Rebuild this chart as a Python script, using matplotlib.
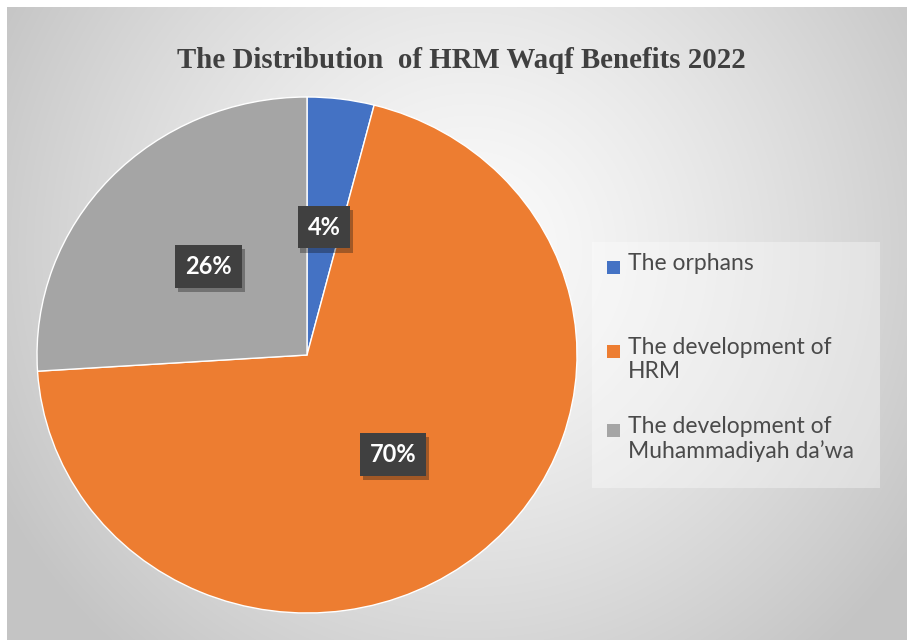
import numpy as np
import matplotlib
matplotlib.use('Agg')
import matplotlib.pyplot as plt
import matplotlib.patheffects as pe
from matplotlib.patches import Rectangle

title = 'The Distribution  of HRM Waqf Benefits 2022'
labels = ['The orphans', 'The development of\nHRM', 'The development of\nMuhammadiyah da\u2019wa']
values = [4, 70, 26]
colors = ['#4472C4', '#ED7D31', '#A5A5A5']

W, H = 907, 640
fig = plt.figure(figsize=(W / 100, H / 100), dpi=100)
fig.patch.set_facecolor('white')

# background panel with radial gradient
bg = fig.add_axes([7 / W, 0, 900 / W, 633 / H])
yy, xx = np.mgrid[0:633, 0:900]
d = np.hypot((xx - 463) / 1.0, (yy - 243) / 1.0)
shade = 0.985 - 0.20 * (d / 505) ** 1.3
shade = np.clip(shade, 0.77, 1)
bg.imshow(np.dstack([shade] * 3), aspect='auto', extent=(0, 900, 633, 0))
bg.set_xlim(0, 900)
bg.set_ylim(633, 0)
bg.axis('off')

# pie (stretched slightly wider than tall like the source)
cx, cy, rx, ry = 307, 355, 270, 258
ax = fig.add_axes([(cx - rx) / W, (H - cy - ry) / H, 2 * rx / W, 2 * ry / H])
wedges, texts, autotexts = ax.pie(values, colors=colors, startangle=90, counterclock=False,
                                  autopct='%d%%', pctdistance=0.5,
                                  wedgeprops=dict(edgecolor='white', linewidth=1))
ax.set_aspect('auto')
ax.set_xlim(-1, 1)
ax.set_ylim(-1, 1)
ax.axis('off')
for t in autotexts:
    t.set_fontfamily('Lato')
    t.set_fontweight('bold')
    t.set_fontsize(17)
    t.set_color('white')
    t.set_bbox(dict(boxstyle='square,pad=0.42', facecolor='#404040', edgecolor='none'))
    t.get_bbox_patch().set_path_effects([pe.SimplePatchShadow(offset=(2, -3), alpha=0.35), pe.Normal()])

# title
fig.text(461 / W, 1 - 61 / H, title, ha='center', va='center', fontsize=20.8,
         fontfamily='Liberation Serif', fontweight='bold', color='#404040')

# legend
leg = fig.add_axes([0, 0, 1, 1])
leg.set_xlim(0, W)
leg.set_ylim(H, 0)
leg.axis('off')
leg.add_patch(Rectangle((592, 242), 288, 246, facecolor='white', alpha=0.35, edgecolor='none'))
ys = [268, 352, 431]
for lab, col, y in zip(labels, colors, ys):
    leg.add_patch(Rectangle((607, y - 7), 13, 13, facecolor=col, edgecolor='none'))
    leg.text(628, y - 15, lab, ha='left', va='top', fontsize=16.5, fontfamily='Lato',
             color='#4a4a4a', linespacing=1.2)

fig.savefig('out.png', dpi=100)
